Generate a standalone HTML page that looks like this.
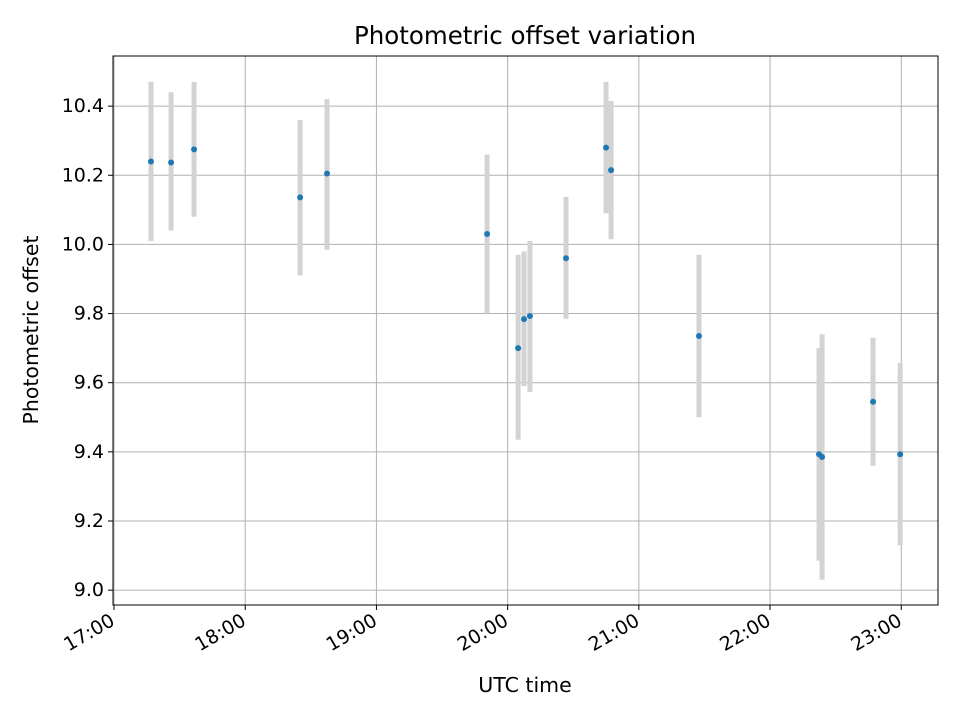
<!DOCTYPE html>
<html><head><meta charset="utf-8"><style>
body{margin:0;background:#fff;}
svg text{font-family:"DejaVu Sans","Liberation Sans",sans-serif;fill:#000;}
</style></head><body>
<svg id="chart" width="960" height="720" xmlns="http://www.w3.org/2000/svg">
<rect x="0" y="0" width="960" height="720" fill="#fff"/>
<g id="grid"></g>
<g id="bars"></g>
<g id="pts"></g>
<rect x="113" y="56" width="825" height="549" fill="none" stroke="#000" stroke-width="1"/>
<g id="axes"></g>
<text x="525" y="44" font-size="24.5" text-anchor="middle">Photometric offset variation</text>
<text x="525" y="692" font-size="20.5" text-anchor="middle">UTC time</text>
<text x="38" y="330" font-size="20.5" text-anchor="middle" transform="rotate(-90 38 330)">Photometric offset</text>
</svg>
<script>
// minutes after 17:00 UTC
const times=[16.9,26.1,36.6,85.1,97.4,170.6,184.8,187.5,190.2,206.7,225,227.3,267.5,322.4,323.8,347.1,359.5];
const values=[10.24,10.237,10.275,10.136,10.205,10.03,9.70,9.784,9.793,9.96,10.28,10.215,9.735,9.393,9.385,9.545,9.393];
const errHigh=[10.47,10.44,10.47,10.36,10.42,10.26,9.97,9.98,10.01,10.137,10.47,10.415,9.97,9.70,9.74,9.73,9.657];
const errLow=[10.01,10.04,10.08,9.91,9.985,9.80,9.435,9.59,9.573,9.785,10.09,10.015,9.50,9.085,9.03,9.36,9.13];
const xTicks=[0,60,120,180,240,300,360];
const xTickLabels=["17:00","18:00","19:00","20:00","21:00","22:00","23:00"];
const yTicks=[9.0,9.2,9.4,9.6,9.8,10.0,10.2,10.4];
const yTickLabels=["9.0","9.2","9.4","9.6","9.8","10.0","10.2","10.4"];

const L=113,R=938,T=56,B=605;
const xMin=-0.46,xMax=376.8,yMin=8.957,yMax=10.545;
const X=v=>L+(v-xMin)/(xMax-xMin)*(R-L);
const Y=v=>B-(v-yMin)/(yMax-yMin)*(B-T);
const NS="http://www.w3.org/2000/svg";
function mk(tag,attrs,parent){const e=document.createElementNS(NS,tag);for(const k in attrs)e.setAttribute(k,attrs[k]);parent.appendChild(e);return e;}
const grid=document.getElementById('grid'),axes=document.getElementById('axes'),bars=document.getElementById('bars'),pts=document.getElementById('pts');
xTicks.forEach((t,i)=>{
  const x=X(t);
  const g=mk('line',{x1:x,x2:x,y1:T,y2:B,stroke:'#b0b0b0','stroke-width':1},grid);
  
  
  const tk=mk('line',{x1:x,x2:x,y1:B,y2:B+5,stroke:'#000','stroke-width':1},axes);
  
  
  const ax=x-1, ay=B+20;
  const tx=mk('text',{x:ax,y:ay,'font-size':19,'text-anchor':'end',transform:`rotate(-30 ${ax} ${ay-6})`},axes);
  tx.textContent=xTickLabels[i];
  
  
});
yTicks.forEach((t,i)=>{
  const y=Y(t);
  const g=mk('line',{x1:L,x2:R,y1:y,y2:y,stroke:'#b0b0b0','stroke-width':1},grid);
  
  
  const tk=mk('line',{x1:L-5,x2:L,y1:y,y2:y,stroke:'#000','stroke-width':1},axes);
  
  
  const tx=mk('text',{x:L-9,y:y+6,'font-size':19,'text-anchor':'end'},axes);
  tx.textContent=yTickLabels[i];
  
  
});
times.forEach((t,i)=>{
  const x=X(t);
  const b=mk('line',{x1:x,x2:x,y1:Y(errHigh[i]),y2:Y(errLow[i]),stroke:'#d3d3d3','stroke-width':5},bars);
  
  
  const c=mk('circle',{cx:x,cy:Y(values[i]),r:3,fill:'#1f77b4'},pts);
  
  
});
</script>
</body></html>
